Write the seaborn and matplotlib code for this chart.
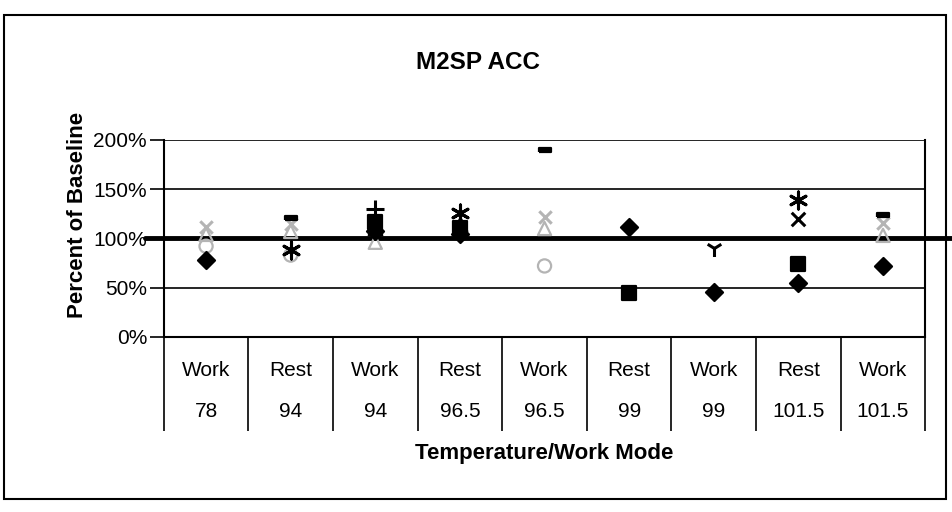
import numpy as np
import matplotlib
matplotlib.use("Agg")
import matplotlib.pyplot as plt
from matplotlib.patches import Rectangle
from matplotlib.ticker import PercentFormatter
import seaborn as sns

sns.set_style("white")
plt.rcParams['font.family'] = ['Liberation Sans', 'DejaVu Sans']
plt.rcParams.update({"text.color": "black", "axes.labelcolor": "black",
                     "xtick.color": "black", "ytick.color": "black"})

# category axis (two levels)
modes = ["Work", "Rest", "Work", "Rest", "Work", "Rest", "Work", "Rest", "Work"]
temps = ["78", "94", "94", "96.5", "96.5", "99", "99", "101.5", "101.5"]

# percent of baseline, one array per marker series (nan = no point)
nan = np.nan
diamond_vals = [78, nan, 107, 104, nan, 112, 46, 55, 72]
square_vals = [nan, nan, 117, 110, nan, 45, nan, 74, nan]
triangle_vals = [nan, nan, 110, 115, nan, nan, nan, nan, nan]
xmark_vals = [nan, nan, nan, nan, nan, nan, nan, 120, nan]
asterisk_vals = [nan, 88, nan, 126, nan, nan, nan, 139, nan]
plus_vals = [nan, nan, 130, nan, nan, nan, nan, nan, nan]
dash_vals = [nan, 121, nan, nan, 190, nan, nan, nan, 124]
tridown_vals = [nan, nan, nan, nan, nan, nan, 90, nan, nan]
faint_x_vals = [112, 115, nan, nan, 122, nan, nan, nan, 116]
faint_tri_vals = [104, 107, 96, nan, 110, nan, nan, nan, 103]
faint_circle_vals = [92, 83, nan, nan, 72, nan, nan, nan, nan]
baseline = 100

pos = np.arange(len(modes))
dash_marker = [(-1, -0.3), (1, -0.3), (1, 0.3), (-1, 0.3), (-1, -0.3)]

fig = plt.figure(figsize=(9.52, 5.12), dpi=100)
fig.patches.append(Rectangle((0.004, 0.025), 0.99, 0.945, transform=fig.transFigure,
                             fill=False, edgecolor="black", lw=1.5))
ax = fig.add_axes([0.172, 0.342, 0.800, 0.385])

series = [
    (faint_circle_vals, "o", "none", "#b4b4b4", 90),
    (faint_tri_vals, "^", "none", "#b4b4b4", 90),
    (faint_x_vals, "x", "#b4b4b4", None, 80),
    (diamond_vals, "D", "black", "black", 75),
    (square_vals, "s", "black", "black", 95),
    (triangle_vals, "^", "black", "black", 95),
    (xmark_vals, "x", "black", None, 95),
    (asterisk_vals, (6, 2, 0), "black", None, 150),
    (plus_vals, "+", "black", None, 150),
    (dash_vals, dash_marker, "black", "black", 80),
    (tridown_vals, "1", "black", None, 150),
]
for vals, mk, fc, ec, size in series:
    kw = dict(x=pos, y=vals, marker=mk, s=size, ax=ax, zorder=4, clip_on=False)
    if ec is None:
        sns.scatterplot(color=fc, linewidth=2.2, **kw)
    else:
        sns.scatterplot(facecolor=fc, edgecolor=ec, linewidth=1.6, **kw)

ax.axhline(baseline, color="black", lw=3.5, xmin=-0.024, xmax=1.04, clip_on=False, zorder=3)

ax.set_xlim(-0.5, len(modes) - 0.5)
ax.set_ylim(0, 200)
ax.set_yticks([0, 50, 100, 150, 200])
ax.yaxis.set_major_formatter(PercentFormatter(xmax=100, decimals=0))
ax.grid(axis="y", color="black", lw=1.2)
ax.set_axisbelow(True)
for side in ["left", "right", "bottom"]:
    ax.spines[side].set_visible(True)
    ax.spines[side].set_color("black")
    ax.spines[side].set_linewidth(1.5)
ax.spines["top"].set_visible(False)

ax.set_xticks(pos, [f"{m}\n{t}" for m, t in zip(modes, temps)], linespacing=2.5)
ax.set_xticks(np.arange(-0.5, len(modes), 1), minor=True)
ax.tick_params(axis="x", which="major", length=0, labelsize=15, pad=17)
ax.tick_params(axis="x", which="minor", bottom=True, length=68, width=1.2,
               color="black", direction="out")
ax.tick_params(axis="y", which="major", left=True, length=10, width=1.2, color="black",
               direction="out", labelsize=15, pad=2)

ax.set_ylabel("Percent of Baseline", fontsize=16, fontweight="bold")
ax.yaxis.set_label_coords(-0.1, 0.62)
ax.set_xlabel("Temperature/Work Mode", fontsize=16, fontweight="bold")
ax.xaxis.set_label_coords(0.5, -0.54)
fig.text(0.502, 0.878, "M2SP ACC", ha="center", va="center", fontsize=17.5, fontweight="bold")

fig.savefig("out.png", dpi=100)
